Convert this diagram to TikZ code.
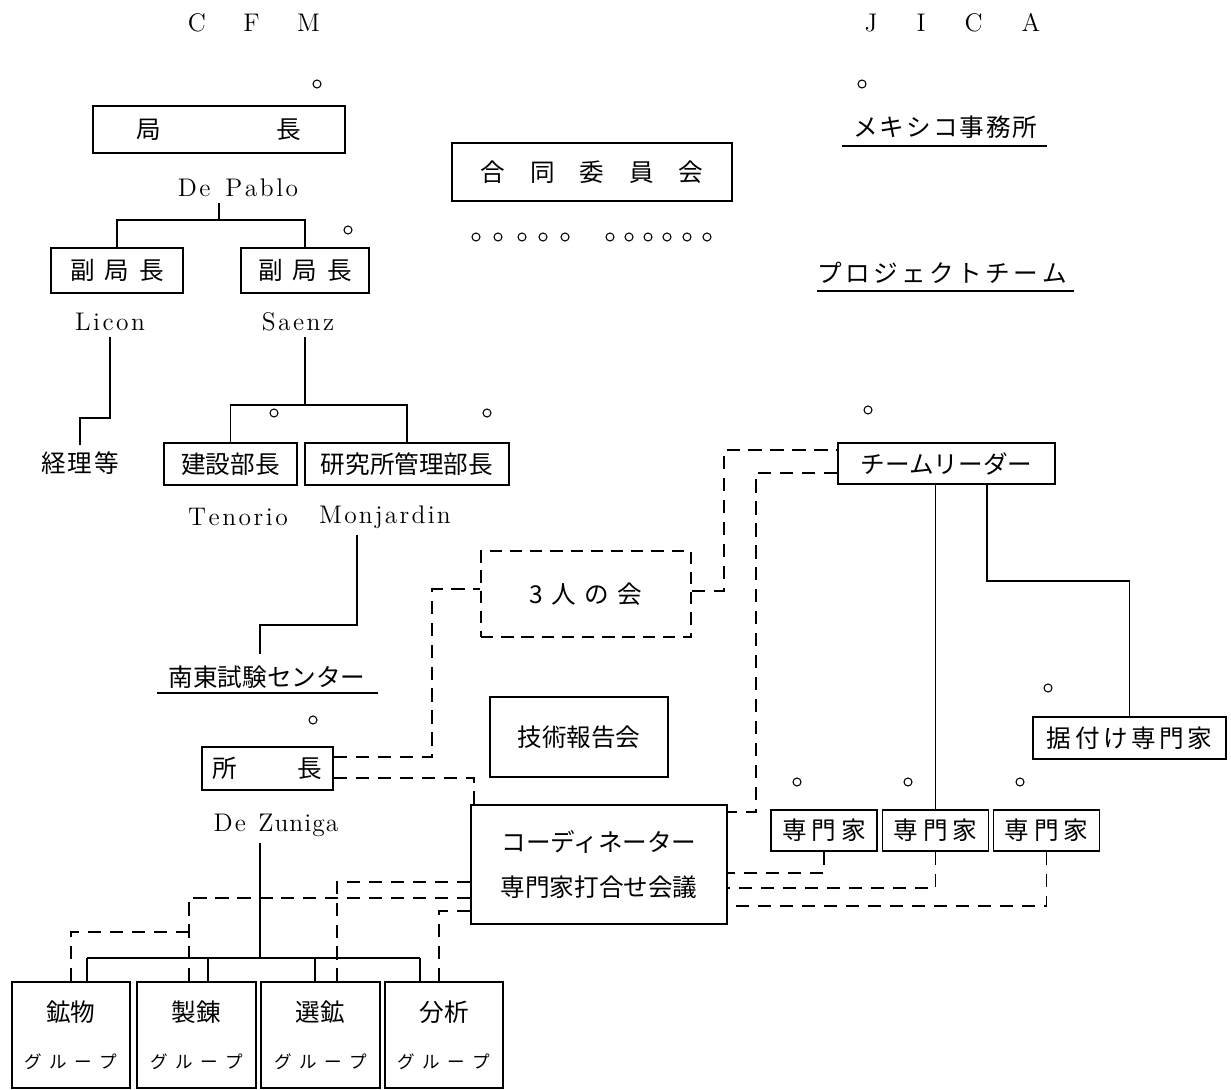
\documentclass[tikz,border=0pt]{standalone}
\usepackage{fontspec}
\newfontfamily\jp{Noto Sans CJK JP}
\usepackage{tikz}
\usetikzlibrary{positioning,calc}

% spaziatura fra i caratteri
\newcommand\spreadout[2]{\def\spreadgap{\hspace{#1}}\spreadnext#2\relax}
\def\spreadnext#1#2{#1\ifx#2\relax\else\spreadgap\expandafter\spreadnext\expandafter#2\fi}

\tikzset{
  box/.style={draw, line width=0.9pt, inner sep=0pt, font=\jp\fontsize{14}{16}\selectfont},
  dbox/.style={box, dash pattern=on 7pt off 4.5pt},
  gbox/.style={box, minimum width=2.37cm, minimum height=2.12cm, align=center},
  jtext/.style={font=\jp\fontsize{14}{16}\selectfont},
  latin/.style={font=\fontsize{14.5}{16}\selectfont},
  link/.style={line width=0.9pt},
  dlink/.style={line width=0.9pt, dash pattern=on 7.5pt off 5pt},
  ring/.style={line width=0.6pt}
}

\begin{document}
\begin{tikzpicture}
  \useasboundingbox (0,0) rectangle (24.62,-21.8);

  % intestazioni
  \node[latin] (cfm) at (5.08,-0.46) {C\hspace{0.75cm}F\hspace{0.75cm}M};
  \node[latin] (jica) at (19.05,-0.46) {J\hspace{0.78cm}I\hspace{0.78cm}C\hspace{0.78cm}A};

  % lato CFM
  \node[box, minimum width=5.04cm, minimum height=0.94cm] (dir) at (4.38,-2.59) {局\hspace{2.31cm}長};
  \node[latin] (pablo) at (4.76,-3.76) {\spreadout{0.05cm}{De}\hspace{0.3cm}\spreadout{0.05cm}{Pablo}};
  \node[box, minimum width=2.64cm, minimum height=0.9cm] (vd1) at (2.34,-5.41) {\spreadout{0.2cm}{副局長}};
  \node[box, minimum width=2.56cm, minimum height=0.9cm] (vd2) at (6.1,-5.41) {\spreadout{0.2cm}{副局長}};
  \node[latin] (licon) at (2.2,-6.44) {\spreadout{0.05cm}{Licon}};
  \node[latin] (saenz) at (5.96,-6.44) {\spreadout{0.05cm}{Saenz}};
  \node[jtext] (acct) at (1.6,-9.26) {\spreadout{0.04cm}{経理等}};
  \node[box, minimum width=2.66cm, minimum height=0.84cm] (dcon) at (4.61,-9.28) {建設部長};
  \node[box, minimum width=4.08cm, minimum height=0.84cm] (dlab) at (8.14,-9.28) {研究所管理部長};
  \node[latin] (tenorio) at (4.76,-10.34) {\spreadout{0.05cm}{Tenorio}};
  \node[latin] (monj) at (7.7,-10.34) {\spreadout{0.045cm}{Monjardin}};
  \node[jtext] (sec) at (5.34,-13.54) {南東試験センター};
  \node[box, minimum width=2.62cm, minimum height=0.86cm] (chief) at (5.35,-15.37) {所\hspace{1.21cm}長};
  \node[latin] (zuniga) at (5.52,-16.5) {\spreadout{0.04cm}{De}\hspace{0.25cm}\spreadout{0.02cm}{Zuniga}};
  \foreach \n/\x/\t in {gmin/1.42/鉱物, gsme/3.93/製錬, gdre/6.41/選鉱, gana/8.88/分析}
    \node[gbox] (\n) at (\x,-20.7) {\t\\[0.38cm]{\fontsize{10}{12}\selectfont\spreadout{0.15cm}{グループ}}};

  % centro
  \node[box, minimum width=5.6cm, minimum height=1.16cm] (joint) at (11.84,-3.44) {\spreadout{0.5cm}{合同委員会}};
  \node[dbox, minimum width=4.2cm, minimum height=1.72cm] (three) at (11.72,-11.88) {\spreadout{0.17cm}{3人の会}};
  \node[box, minimum width=3.56cm, minimum height=1.6cm] (report) at (11.58,-14.74) {技術報告会};
  \node[box, minimum width=5.12cm, minimum height=2.38cm, align=center] (coord) at (11.98,-17.29) {コーディネーター\\[9.6pt]専門家打合せ会議};

  % lato JICA
  \node[jtext] (mex) at (18.91,-2.54) {\spreadout{0.04cm}{メキシコ事務所}};
  \node[jtext] (team) at (18.84,-5.46) {\spreadout{0.07cm}{プロジェクトチーム}};
  \node[box, minimum width=4.34cm, minimum height=0.82cm] (leader) at (18.93,-9.27) {チームリーダー};
  \node[box, minimum width=3.86cm, minimum height=0.84cm] (inst) at (22.59,-14.76) {\spreadout{0.07cm}{据付け専門家}};
  \foreach \n/\x in {exp1/16.48, exp2/18.71, exp3/20.93}
    \node[box, minimum width=2.12cm, minimum height=0.82cm] (\n) at (\x,-16.61) {\spreadout{0.1cm}{専門家}};

  % sottolineature
  \draw[link] (16.84,-2.92) -- (20.94,-2.92);
  \draw[link] (16.34,-5.82) -- (21.48,-5.82);
  \draw[link] (3.14,-13.86) -- (7.56,-13.86);

  % cerchietti
  \foreach \p in {(6.34,-1.68), (6.96,-4.6), (5.48,-8.26), (9.74,-8.26), (6.26,-14.4),
                  (17.24,-1.68), (17.36,-8.2), (20.96,-13.76),
                  (15.94,-15.64), (18.16,-15.64), (20.4,-15.64)}
    \draw[ring] \p circle (0.08);
  \foreach \x in {9.52,9.96,10.44,10.86,11.3,12.2,12.58,12.96,13.34,13.74,14.14}
    \draw[ring] (\x,-4.74) circle (0.08);

  % collegamenti CFM
  \coordinate (t1) at (4.38,-4.4);
  \draw[link] (pablo.south -| t1) -- (t1);
  \draw[link] (vd1.north) |- (t1) -| (vd2.north);
  \draw[link] (licon.south) |- (1.6,-8.36) -- (acct.north);
  \coordinate (t2) at (6.1,-8.1);
  \draw[link] (saenz.south -| t2) -- (t2);
  \draw[link] (dcon.north) |- (t2) -| (dlab.north);
  \coordinate (t3) at (7.14,-12.5);
  \draw[link] (monj.south -| t3) -- (t3) -| ($(sec.north)+(-0.14,0.1)$);
  \coordinate (b0) at (5.2,-19.16);
  \coordinate (b1) at (1.74,-19.16);
  \coordinate (b2) at (4.16,-19.16);
  \coordinate (b3) at (6.3,-19.16);
  \coordinate (b4) at (8.4,-19.16);
  \draw[link] (zuniga.south -| b0) -- (b0);
  \draw[link] (b1) -- (b4);
  \foreach \b/\g in {b1/gmin, b2/gsme, b3/gdre, b4/gana}
    \draw[link] (\b) -- (\b |- \g.north);

  % collegamenti JICA
  \draw[link] (exp2.north) -- (exp2.north |- leader.south);
  \draw[link] ($(leader.south)+(0.81,0)$) -- ++(0,-1.92) -| (inst.north);

  % collegamenti tratteggiati
  \draw[dlink] ($(chief.east)+(0,0.23)$) -| ($(three.west)+(-0.96,0.1)$) -- ($(three.west)+(0,0.1)$);
  \draw[dlink] ($(chief.east)+(0,-0.19)$) -| ($(coord.north west)+(0.08,0)$);
  \draw[dlink] ($(three.east)+(0,0.06)$) -- ++(0.64,0) |- ($(leader.west)+(0,0.27)$);
  \draw[dlink] ($(leader.west)+(0,-0.19)$) -| ($(coord.north east)+(0.56,-0.16)$) -- ($(coord.north east)+(0,-0.16)$);
  \draw[dlink] (exp1.south) |- ($(coord.east)+(0,-0.17)$);
  \draw[dlink] (exp2.south) |- ($(coord.east)+(0,-0.47)$);
  \draw[dlink] (exp3.south) |- ($(coord.east)+(0,-0.83)$);
  \draw[dlink] ($(coord.west)+(0,-0.35)$) -| ($(gdre.north)+(0.33,0)$);
  \draw[dlink] ($(coord.west)+(0,-0.67)$) -| ($(gsme.north)+(-0.15,0)$);
  \draw[dlink] ($(coord.west)+(0,-0.93)$) -| ($(gana.north)+(-0.1,0)$);
  \draw[dlink] (gmin.north) |- ($(gsme.north)+(-0.15,0.98)$);
\end{tikzpicture}
\end{document}
